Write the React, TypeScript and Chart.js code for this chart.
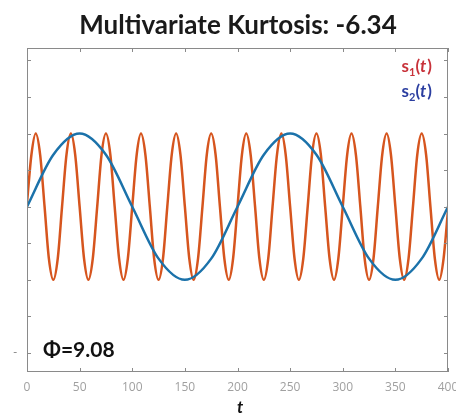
import React, { useEffect, useRef } from "react";
import { Chart, registerables } from "chart.js";

Chart.register(...registerables);

const titleText = "Multivariate Kurtosis: -6.34";
const phiText = "Φ=9.08";
const xTicks = [0, 50, 100, 150, 200, 250, 300, 350, 400];
const yTicks = [-2, -1.5, -1, -0.5, 0, 0.5, 1, 1.5, 2];

// s1(t): fast oscillation (orange)
const s1T = [
  0, 4.2, 8.3, 12.5, 16.7, 20.8, 25, 29.2, 33.3, 37.5, 41.7, 45.8, 50, 54.2, 58.3, 62.5, 66.7, 70.8, 75, 79.2, 83.3, 87.5, 91.7, 95.8,
  100, 104.2, 108.3, 112.5, 116.7, 120.8, 125, 129.2, 133.3, 137.5, 141.7, 145.8, 150, 154.2, 158.3, 162.5, 166.7, 170.8, 175, 179.2, 183.3, 187.5, 191.7, 195.8,
  200, 204.2, 208.3, 212.5, 216.7, 220.8, 225, 229.2, 233.3, 237.5, 241.7, 245.8, 250, 254.2, 258.3, 262.5, 266.7, 270.8, 275, 279.2, 283.3, 287.5, 291.7, 295.8,
  300, 304.2, 308.3, 312.5, 316.7, 320.8, 325, 329.2, 333.3, 337.5, 341.7, 345.8, 350, 354.2, 358.3, 362.5, 366.7, 370.8, 375, 379.2, 383.3, 387.5, 391.7, 395.8,
  400,
];
const s1V = [
  0.05, 0.71, 1, 0.71, 0, -0.71, -1, -0.71, 0, 0.71, 1, 0.71, 0, -0.71, -1, -0.71, 0, 0.71, 1, 0.71, 0, -0.71, -1, -0.71,
  0, 0.71, 1, 0.71, 0, -0.71, -1, -0.71, 0, 0.71, 1, 0.71, 0, -0.71, -1, -0.71, 0, 0.71, 1, 0.71, 0, -0.71, -1, -0.71,
  0, 0.71, 1, 0.71, 0, -0.71, -1, -0.71, 0, 0.71, 1, 0.71, 0, -0.71, -1, -0.71, 0, 0.71, 1, 0.71, 0, -0.71, -1, -0.71,
  0, 0.71, 1, 0.71, 0, -0.71, -1, -0.71, 0, 0.71, 1, 0.71, 0, -0.71, -1, -0.71, 0, 0.71, 1, 0.71, 0, -0.71, -1, -0.71,
  -0.05,
];

// s2(t): slow oscillation (blue)
const s2T = [0, 25, 50, 75, 100, 125, 150, 175, 200, 225, 250, 275, 300, 325, 350, 375, 400];
const s2V = [0, 0.71, 1, 0.71, 0, -0.71, -1, -0.71, 0, 0.71, 1, 0.71, 0, -0.71, -1, -0.71, 0];

const FONT = "Lato, 'Open Sans', sans-serif";

function drawSeriesLabel(ctx: CanvasRenderingContext2D, right: number, baseline: number, sub: string, color: string) {
  const big = `bold 17px ${FONT}`;
  const small = `bold 11px ${FONT}`;
  const ital = `italic bold 17px ${FONT}`;
  const parts: [string, string, number][] = [
    ["s", big, 0],
    [sub, small, 4],
    ["(", big, 0],
    ["t", ital, 0],
    [")", big, 0],
  ];
  let w = 0;
  for (const [t, f] of parts) {
    ctx.font = f;
    w += ctx.measureText(t).width + (t === "t" ? 1 : 0);
  }
  let x = right - w;
  ctx.fillStyle = color;
  ctx.textAlign = "left";
  ctx.textBaseline = "alphabetic";
  for (const [t, f, dy] of parts) {
    ctx.font = f;
    ctx.fillText(t, x, baseline + dy);
    x += ctx.measureText(t).width + (t === "t" ? 1 : 0);
  }
}

const decoPlugin = {
  id: "deco",
  afterDraw(chart: any) {
    const { ctx, chartArea, scales } = chart;
    const { left, right, top, bottom } = chartArea;
    ctx.save();
    // box
    ctx.strokeStyle = "#8a8a8a";
    ctx.lineWidth = 1;
    ctx.strokeRect(left + 0.5, top + 0.5, right - left - 1, bottom - top - 1);
    // inward ticks
    ctx.beginPath();
    for (const v of xTicks) {
      const px = Math.round(scales.x.getPixelForValue(v)) + 0.5;
      ctx.moveTo(px, bottom);
      ctx.lineTo(px, bottom - 4);
      ctx.moveTo(px, top);
      ctx.lineTo(px, top + 4);
    }
    for (const v of yTicks) {
      const py = Math.round(scales.y.getPixelForValue(v)) + 0.5;
      ctx.moveTo(left, py);
      ctx.lineTo(left + 4, py);
      ctx.moveTo(right, py);
      ctx.lineTo(right - 4, py);
    }
    ctx.stroke();

    // title
    ctx.fillStyle = "#1a1a1a";
    ctx.font = `bold 26px ${FONT}`;
    ctx.textAlign = "center";
    ctx.textBaseline = "alphabetic";
    ctx.fillText(titleText, 238, 34);

    // axis label t
    ctx.font = `italic bold 17px ${FONT}`;
    ctx.fillStyle = "#111";
    ctx.fillText("t", 240, 413);

    // phi annotation
    ctx.font = `bold 21px ${FONT}`;
    ctx.textAlign = "left";
    ctx.fillStyle = "#111";
    ctx.fillText(phiText, 43, 357);

    // series labels
    drawSeriesLabel(ctx, 432, 72, "1", "#c8323a");
    drawSeriesLabel(ctx, 432, 97, "2", "#2b3ea0");
    ctx.restore();
  },
};

export default function App() {
  const ref = useRef<HTMLCanvasElement | null>(null);
  useEffect(() => {
    if (!ref.current) return;
    const chart = new Chart(ref.current, {
      type: "line",
      data: {
        datasets: [
          {
            label: "s1(t)",
            data: s1T.map((t, i) => ({ x: t, y: s1V[i] })),
            borderColor: "#d6551e",
            borderWidth: 2.5,
            pointRadius: 0,
            cubicInterpolationMode: "monotone",
            fill: false,
            order: 2,
          },
          {
            label: "s2(t)",
            data: s2T.map((t, i) => ({ x: t, y: s2V[i] })),
            borderColor: "#1b72aa",
            borderWidth: 2.5,
            pointRadius: 0,
            cubicInterpolationMode: "monotone",
            fill: false,
            order: 1,
          },
        ],
      },
      options: {
        animation: false,
        responsive: false,
        layout: { padding: { top: 48, right: 8, left: 0, bottom: 0 } },
        plugins: { legend: { display: false }, tooltip: { enabled: false }, title: { display: false } },
        scales: {
          x: {
            type: "linear",
            min: 0,
            max: 400,
            afterBuildTicks: (s: any) => {
              s.ticks = xTicks.map((v) => ({ value: v }));
            },
            afterFit: (s: any) => {
              s.height = 43;
              s.paddingLeft = 0;
              s.paddingRight = 0;
            },
            grid: { display: false, drawTicks: false },
            border: { display: false },
            ticks: {
              padding: 8,
              color: "#a0a0a0",
              font: { family: "'Open Sans', sans-serif", size: 12 },
              maxRotation: 0,
              autoSkip: false,
            },
          },
          y: {
            type: "linear",
            min: -2.26,
            max: 2.17,
            afterBuildTicks: (s: any) => {
              s.ticks = yTicks.map((v) => ({ value: v }));
            },
            afterFit: (s: any) => {
              s.width = 27;
              s.paddingTop = 0;
              s.paddingBottom = 0;
            },
            grid: { display: false, drawTicks: false },
            border: { display: false },
            ticks: {
              padding: 10,
              color: "#888",
              font: { family: "'Open Sans', sans-serif", size: 12 },
              callback: (v: any) => (v === -2 ? "-" : ""),
            },
          },
        },
      },
      plugins: [decoPlugin],
    });
    return () => chart.destroy();
  }, []);
  return (
    <div style={{ position: "fixed", left: 0, top: 0, width: 456, height: 415, background: "#fff" }}>
      <canvas ref={ref} width={456} height={415} style={{ display: "block", width: 456, height: 415 }} />
    </div>
  );
}
